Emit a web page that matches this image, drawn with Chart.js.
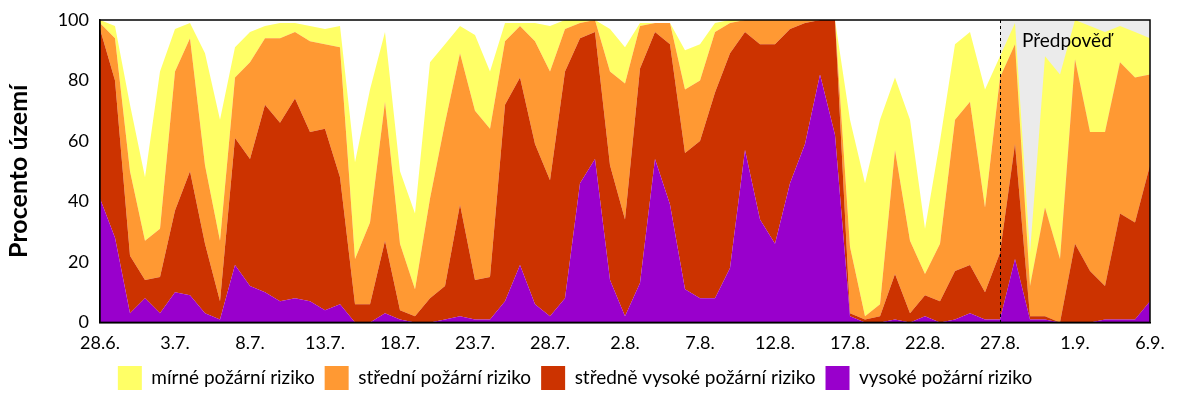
<!DOCTYPE html>
<html><head><meta charset="utf-8">
<script src="https://cdn.jsdelivr.net/npm/chart.js@4"></script>
<style>html,body{margin:0;padding:0;background:#fff}#w{width:1200px;height:400px}</style>
</head><body><div id="w"><canvas id="c"></canvas></div>
<script>
const tickLabels=['28.6.','3.7.','8.7.','13.7.','18.7.','23.7.','28.7.','2.8.','7.8.','12.8.','17.8.','22.8.','27.8.','1.9.','6.9.'];
const seriesNames=['mírné požární riziko','střední požární riziko','středně vysoké požární riziko','vysoké požární riziko'];
const high=[41,28,3,8,3,10,9,3,1,19,12,10,7,8,7,4,6,0,0,3,1,0,0,1,2,1,1,7,19,6,2,8,46,54,14,2,13,54,39,11,8,8,18,57,34,26,46,59,82,62,2,0,0,1,0,2,0,1,3,1,1,21,1,1,0,0,0,1,1,1,7];
const medHigh=[56,52,19,6,12,27,41,23,6,42,42,62,59,66,56,60,42,6,6,24,3,2,8,11,37,13,14,65,62,53,45,75,48,42,38,32,71,42,53,45,52,68,71,39,58,66,51,40,18,38,1,1,2,15,3,7,7,16,16,9,22,38,1,1,0,26,17,11,35,32,45];
const medium=[2,14,28,13,16,46,44,26,20,20,32,22,28,22,30,28,43,15,27,46,22,9,33,54,50,56,49,21,17,34,36,14,5,4,31,45,14,3,7,21,20,20,10,4,8,8,3,1,0,0,22,1,4,41,24,7,19,50,54,28,58,33,10,36,21,61,46,51,50,48,30];
const mild=[1,4,22,21,52,14,5,37,40,10,10,4,5,3,5,5,7,32,44,23,24,25,45,26,9,25,19,6,1,6,15,3,1,0,14,12,1,0,0,13,12,3,1,0,0,0,0,0,0,0,42,44,61,24,40,15,34,25,23,39,7,7,11,50,61,13,35,33,12,15,12];
const forecastStart=60;
const days=high.map((_,i)=>i);
const pts=a=>a.map((v,i)=>({x:days[i],y:v}));
const F='Lato, "Open Sans", sans-serif';
const cols=['#FFFF66','#FF9933','#CC3300','#9900CC'];
const bg={id:'bg',beforeDatasetsDraw(ch){const {ctx,chartArea:a,scales:{x}}=ch;const x0=x.getPixelForValue(forecastStart);ctx.save();ctx.fillStyle='#EBEBEB';ctx.fillRect(x0,a.top,a.right-x0,a.bottom-a.top);ctx.restore();},
afterDatasetsDraw(ch){const {ctx,chartArea:a,scales:{x}}=ch;const x0=x.getPixelForValue(forecastStart);ctx.save();ctx.strokeStyle='#000';ctx.lineWidth=1;ctx.setLineDash([3,3]);ctx.beginPath();ctx.moveTo(Math.round(x0)+0.5,a.top);ctx.lineTo(Math.round(x0)+0.5,a.bottom);ctx.stroke();ctx.setLineDash([]);ctx.lineWidth=1.5;ctx.strokeRect(a.left,a.top,a.right-a.left,a.bottom-a.top);ctx.fillStyle='#000';ctx.font='19px '+F;ctx.textBaseline='middle';ctx.fillText('Předpověď',x0+22,a.top+21);ctx.restore();}};
new Chart(document.getElementById('c'),{type:'line',
data:{datasets:[
{label:seriesNames[3],data:pts(high),backgroundColor:cols[3],fill:'origin'},
{label:seriesNames[2],data:pts(medHigh),backgroundColor:cols[2],fill:'-1'},
{label:seriesNames[1],data:pts(medium),backgroundColor:cols[1],fill:'-1'},
{label:seriesNames[0],data:pts(mild),backgroundColor:cols[0],fill:'-1'}
].map(d=>Object.assign(d,{borderWidth:0,pointRadius:0,tension:0,borderColor:d.backgroundColor}))},
options:{responsive:true,maintainAspectRatio:false,animation:false,
layout:{padding:{left:0,right:50,top:20,bottom:0}},
plugins:{legend:{position:'bottom',reverse:true,labels:{font:{family:F,size:19},color:'#000',boxWidth:24,boxHeight:24,padding:10}},tooltip:{enabled:false}},
scales:{x:{type:'linear',min:0,max:70,grid:{display:false},border:{color:'#000',width:1.5},
ticks:{stepSize:5,color:'#000',font:{family:F,size:18},padding:2,callback:v=>tickLabels[v/5]}},
y:{stacked:true,min:0,max:100,grid:{display:false},border:{color:'#000',width:1.5},afterFit(s){s.width=100;},
ticks:{stepSize:20,color:'#000',font:{family:F,size:18}},
title:{display:true,text:'Procento území',color:'#000',font:{family:F,size:25,weight:'bold'}}}}},
plugins:[bg]});
</script></body></html>
